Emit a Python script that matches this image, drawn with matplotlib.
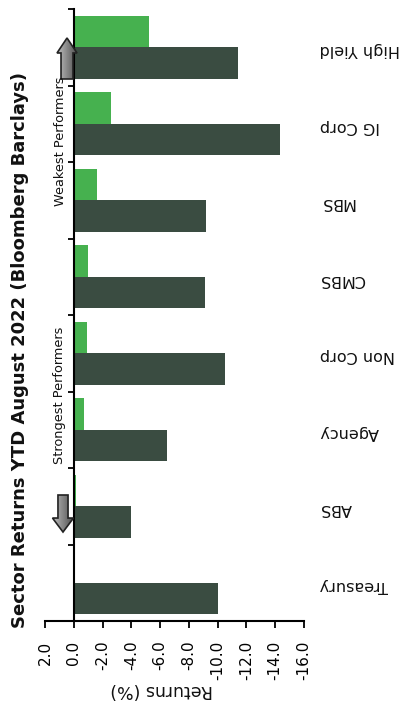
import numpy as np
import matplotlib
matplotlib.use("Agg")
import matplotlib.pyplot as plt
from matplotlib.patches import Polygon

# Fixed-income sector returns (%), YTD August 2022
sectors = ["High Yield", "IG Corp", "MBS", "CMBS", "Non Corp", "Agency", "ABS", "Treasury"]
light_returns = [-5.2, -2.6, -1.6, -1.0, -0.9, -0.7, -0.15, 0.0]
dark_returns = [-11.4, -14.3, -9.2, -9.1, -10.5, -6.5, -4.0, -10.0]
value_ticks = [2.0, 0.0, -2.0, -4.0, -6.0, -8.0, -10.0, -12.0, -14.0, -16.0]
title = "Sector Returns YTD August 2022 (Bloomberg Barclays)"
value_label = "Returns (%)"

LIGHT = "#46b14f"
DARK = "#3a4c41"
FONT = "DejaVu Sans"

W, H = 404, 704
fig = plt.figure(figsize=(W / 100, H / 100), dpi=100)
fig.patch.set_facecolor("white")
ax = fig.add_axes([45 / W, 1 - 621 / H, 259 / W, 612 / H])

pos = np.arange(len(sectors))
bh = 0.41
ax.barh(pos - bh / 2, light_returns, height=bh, color=LIGHT, edgecolor="none", zorder=2)
ax.barh(pos + bh / 2, dark_returns, height=bh, color=DARK, edgecolor="none", zorder=2)

ax.set_xlim(value_ticks[0], value_ticks[-1])
ax.set_ylim(len(sectors) - 0.5, -0.5)

# value axis along the bottom, category axis crossing at zero
for s in ("top", "right"):
    ax.spines[s].set_visible(False)
ax.spines["left"].set_position(("data", 0))
ax.spines["left"].set_linewidth(1.5)
ax.spines["bottom"].set_linewidth(1.5)

ax.set_xticks(value_ticks)
ax.set_xticklabels([f"{v:.1f}" for v in value_ticks], rotation=90,
                   fontsize=11, family=FONT)
ax.tick_params(axis="x", direction="out", length=5, width=1.3, pad=9)

ax.set_yticks([])
ax.set_yticks(np.arange(len(sectors) + 1) - 0.5, minor=True)
ax.tick_params(axis="y", which="minor", direction="out", length=4, width=1.3,
               labelleft=False)

# upside-down category names on the right
for i, name in enumerate(sectors):
    ax.text(1.06, i + 0.03, name, transform=ax.get_yaxis_transform(),
            rotation=180, ha="left", va="center", fontsize=11.5, family=FONT,
            color="#111111")

fig.text(162 / W, 1 - 690 / H, value_label, rotation=180, ha="center",
         va="center", fontsize=12.5, family=FONT, color="#111111")
fig.text(20 / W, 1 - 350 / H, title, rotation=90, ha="center", va="center",
         fontsize=13, fontweight="bold", family=FONT, color="#111111")
fig.text(60 / W, 1 - 141 / H, "Weakest Performers", rotation=90, ha="center",
         va="center", fontsize=9.3, family=FONT, color="#111111")
fig.text(60 / W, 1 - 395 / H, "Strongest Performers", rotation=90, ha="center",
         va="center", fontsize=9.3, family=FONT, color="#111111")


def block_arrow(xc, tip, base, tail, head_half, shaft_half):
    """Gray block arrow in data coordinates with a left-to-right shading."""
    pts = [(xc, tip), (xc + head_half, base), (xc + shaft_half, base),
           (xc + shaft_half, tail), (xc - shaft_half, tail),
           (xc - shaft_half, base), (xc - head_half, base)]
    poly = Polygon(pts, closed=True, facecolor="none", edgecolor="#222222",
                   linewidth=1.2, zorder=4, clip_on=False)
    ax.add_patch(poly)
    grad = np.linspace(0.75, 0.3, 64)[None, :]
    y0, y1 = sorted([tip, tail])
    im = ax.imshow(grad, cmap="gray", vmin=0, vmax=1, aspect="auto",
                   extent=[xc + head_half, xc - head_half, y1, y0],
                   zorder=3, interpolation="bilinear")
    im.set_clip_path(poly)


block_arrow(0.47, -0.121, 0.075, 0.415, 0.695, 0.417)
block_arrow(0.749, 6.337, 6.154, 5.853, 0.73, 0.35)

ax.set_xlim(value_ticks[0], value_ticks[-1])
ax.set_ylim(len(sectors) - 0.5, -0.5)

fig.savefig("out.png", dpi=100, facecolor="white")
